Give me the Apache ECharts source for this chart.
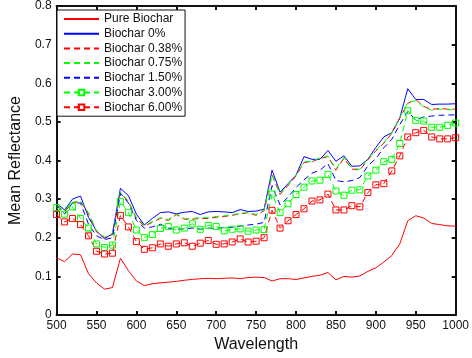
<!DOCTYPE html>
<html>
<head>
<meta charset="utf-8">
<script src="https://cdn.jsdelivr.net/npm/echarts@6/dist/echarts.min.js"></script>
<style>
  html, body { margin: 0; padding: 0; background: #fff; }
  #chart { width: 472px; height: 358px; }
</style>
</head>
<body>
<div id="chart"></div>
<script>
const wavelength = [500, 510, 520, 530, 540, 550, 560, 570, 580, 590,
  600, 610, 620, 630, 640, 650, 660, 670, 680, 690,
  700, 710, 720, 730, 740, 750, 760, 770, 780, 790,
  800, 810, 820, 830, 840, 850, 860, 870, 880, 890,
  900, 910, 920, 930, 940, 950, 960, 970, 980, 990, 1000];

const pureBiochar = [0.148, 0.138, 0.158, 0.156, 0.107, 0.083, 0.067, 0.071, 0.147, 0.115,
  0.088, 0.076, 0.081, 0.083, 0.085, 0.087, 0.090, 0.092, 0.094, 0.095,
  0.094, 0.095, 0.096, 0.094, 0.097, 0.098, 0.097, 0.088, 0.094, 0.094,
  0.092, 0.096, 0.100, 0.103, 0.110, 0.091, 0.100, 0.098, 0.101, 0.113,
  0.122, 0.137, 0.154, 0.184, 0.244, 0.257, 0.251, 0.237, 0.234, 0.231, 0.230];

const biochar0 = [0.290, 0.272, 0.300, 0.308, 0.253, 0.218, 0.197, 0.211, 0.328, 0.309,
  0.261, 0.233, 0.250, 0.265, 0.267, 0.262, 0.266, 0.268, 0.260, 0.267,
  0.268, 0.267, 0.265, 0.273, 0.268, 0.269, 0.274, 0.375, 0.318, 0.340,
  0.362, 0.410, 0.403, 0.403, 0.426, 0.398, 0.412, 0.385, 0.386, 0.403,
  0.434, 0.461, 0.472, 0.510, 0.586, 0.558, 0.558, 0.545, 0.546, 0.546, 0.547];

const biochar038 = [0.282, 0.268, 0.290, 0.294, 0.262, 0.215, 0.200, 0.208, 0.317, 0.293,
  0.250, 0.230, 0.240, 0.250, 0.245, 0.260, 0.248, 0.248, 0.250, 0.250,
  0.253, 0.255, 0.258, 0.262, 0.265, 0.258, 0.270, 0.362, 0.312, 0.335,
  0.360, 0.395, 0.397, 0.405, 0.410, 0.375, 0.406, 0.378, 0.375, 0.402,
  0.425, 0.445, 0.470, 0.510, 0.548, 0.558, 0.540, 0.532, 0.535, 0.533, 0.533];

const biochar075 = [0.283, 0.270, 0.292, 0.296, 0.265, 0.218, 0.202, 0.210, 0.318, 0.295,
  0.252, 0.232, 0.242, 0.252, 0.247, 0.262, 0.250, 0.250, 0.252, 0.252,
  0.255, 0.257, 0.260, 0.263, 0.266, 0.260, 0.272, 0.363, 0.315, 0.337,
  0.362, 0.397, 0.398, 0.407, 0.412, 0.378, 0.408, 0.380, 0.377, 0.404,
  0.427, 0.447, 0.472, 0.512, 0.550, 0.555, 0.538, 0.530, 0.533, 0.532, 0.531];

const biochar150 = [0.285, 0.262, 0.290, 0.290, 0.235, 0.205, 0.195, 0.200, 0.315, 0.290,
  0.245, 0.225, 0.228, 0.235, 0.225, 0.222, 0.223, 0.225, 0.222, 0.225,
  0.224, 0.227, 0.227, 0.230, 0.233, 0.235, 0.240, 0.335, 0.285, 0.305,
  0.330, 0.350, 0.367, 0.375, 0.392, 0.348, 0.345, 0.348, 0.356, 0.386,
  0.405, 0.433, 0.455, 0.493, 0.527, 0.505, 0.513, 0.515, 0.517, 0.518, 0.518];

const biochar300 = [0.278, 0.261, 0.280, 0.250, 0.225, 0.184, 0.175, 0.181, 0.294, 0.265,
  0.220, 0.201, 0.208, 0.224, 0.229, 0.220, 0.225, 0.236, 0.222, 0.232,
  0.229, 0.218, 0.222, 0.223, 0.217, 0.220, 0.221, 0.313, 0.265, 0.288,
  0.312, 0.331, 0.347, 0.349, 0.364, 0.321, 0.310, 0.323, 0.324, 0.360,
  0.375, 0.397, 0.403, 0.444, 0.529, 0.504, 0.502, 0.486, 0.486, 0.491, 0.497];

const biochar600 = [0.260, 0.241, 0.250, 0.234, 0.205, 0.165, 0.158, 0.160, 0.258, 0.228,
  0.190, 0.170, 0.174, 0.184, 0.178, 0.184, 0.187, 0.178, 0.186, 0.193,
  0.183, 0.184, 0.189, 0.197, 0.189, 0.191, 0.200, 0.271, 0.225, 0.244,
  0.260, 0.275, 0.295, 0.298, 0.313, 0.272, 0.272, 0.283, 0.280, 0.317,
  0.337, 0.340, 0.373, 0.412, 0.461, 0.472, 0.478, 0.461, 0.456, 0.456, 0.459];

const RED = '#ff0000', BLUE = '#0000ff', GREEN = '#00ff00';
const NONE = 'rgba(0,0,0,0)';
const FONT = 'Liberation Sans, Arial, Helvetica, sans-serif';
const DASH = [6, 4];

const pairs = (vals) => wavelength.map((w, i) => [w, vals[i]]);

// one line series; hollow squares only for the last two.
// the others keep an invisible square so the legend draws a plain line
const makeSeries = (name, vals, color, dashed, squares) => ({
  name,
  type: 'line',
  data: pairs(vals),
  symbol: 'rect',
  symbolSize: 6,
  showSymbol: squares,
  showAllSymbol: true,
  lineStyle: { color, width: 1, type: dashed ? DASH : 'solid' },
  itemStyle: { color: NONE, borderColor: squares ? color : NONE, borderWidth: 1 },
  emphasis: { disabled: true }
});

const axisLineStyle = { color: '#111', width: 2 };

const chart = echarts.init(document.getElementById('chart'));
chart.setOption({
  animation: false,
  textStyle: { fontFamily: FONT },
  grid: { left: 51, right: 13, top: 4, bottom: 43 },
  legend: {
    left: 57,
    top: 10,
    orient: 'vertical',
    selectedMode: false,
    backgroundColor: '#fff',
    borderColor: '#111',
    borderWidth: 1,
    borderRadius: 0,
    padding: [3, 3, 3, 6],
    itemWidth: 35,
    itemHeight: 7,
    itemGap: 2.7,
    textStyle: { fontSize: 12, color: '#111', fontFamily: FONT, lineHeight: 12 },
    data: ['Pure Biochar', 'Biochar 0%', 'Biochar 0.38%', 'Biochar 0.75%',
      'Biochar 1.50%', 'Biochar 3.00%', 'Biochar 6.00%']
  },
  xAxis: [{
    type: 'value',
    position: 'bottom',
    min: 500, max: 1000, interval: 50,
    name: 'Wavelength',
    nameLocation: 'middle',
    nameGap: 18,
    nameTextStyle: { fontSize: 16, color: '#111', fontFamily: FONT },
    axisLine: { show: true, onZero: false, lineStyle: axisLineStyle },
    axisTick: { show: true, inside: true, length: 4, lineStyle: axisLineStyle },
    axisLabel: { fontSize: 12, color: '#111', margin: 5, fontFamily: FONT, formatter: (v) => String(v) },
    splitLine: { show: false }
  }, {
    type: 'value',
    position: 'top',
    min: 500, max: 1000, interval: 50,
    axisLine: { show: true, onZero: false, lineStyle: axisLineStyle },
    axisTick: { show: true, inside: true, length: 4, lineStyle: axisLineStyle },
    axisLabel: { show: false },
    splitLine: { show: false }
  }],
  yAxis: [{
    type: 'value',
    position: 'left',
    min: 0, max: 0.8, interval: 0.1,
    name: 'Mean Reflectance',
    nameLocation: 'middle',
    nameGap: 25,
    nameTextStyle: { fontSize: 16, color: '#111', fontFamily: FONT },
    axisLine: { show: true, onZero: false, lineStyle: axisLineStyle },
    axisTick: { show: true, inside: true, length: 4, lineStyle: axisLineStyle },
    axisLabel: { fontSize: 12, color: '#111', margin: 5, fontFamily: FONT },
    splitLine: { show: false }
  }, {
    type: 'value',
    position: 'right',
    min: 0, max: 0.8, interval: 0.1,
    axisLine: { show: true, onZero: false, lineStyle: axisLineStyle },
    axisTick: { show: true, inside: true, length: 4, lineStyle: axisLineStyle },
    axisLabel: { show: false },
    splitLine: { show: false }
  }],
  series: [
    makeSeries('Pure Biochar', pureBiochar, RED, false, false),
    makeSeries('Biochar 0%', biochar0, BLUE, false, false),
    makeSeries('Biochar 0.38%', biochar038, RED, true, false),
    makeSeries('Biochar 0.75%', biochar075, GREEN, true, false),
    makeSeries('Biochar 1.50%', biochar150, BLUE, true, false),
    makeSeries('Biochar 3.00%', biochar300, GREEN, true, true),
    makeSeries('Biochar 6.00%', biochar600, RED, true, true)
  ]
});
</script>
</body>
</html>
